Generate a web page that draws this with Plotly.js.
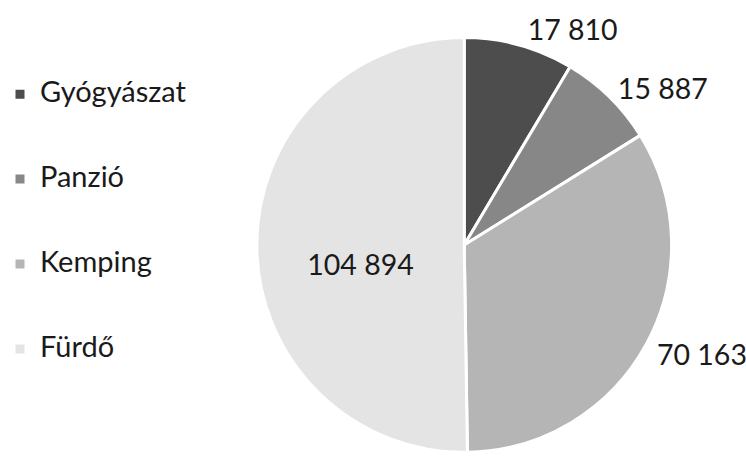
<!DOCTYPE html>
<html><head><meta charset="utf-8">
<script src="https://cdn.plot.ly/plotly-3.0.1.min.js"></script>
<style>html,body{margin:0;padding:0;background:#fff}</style>
</head><body>
<div id="chart" style="width:746px;height:457px"></div>
<script>
const categories = ["Gyógyászat", "Panzió", "Kemping", "Fürdő"];
const values = [17810, 15887, 70163, 104894];
const colors = ["#4d4d4d", "#878787", "#b5b5b5", "#e4e4e4"];
const textPositions = ["outside", "outside", "outside", "inside"];
const labelSizes = [28.5, 28.5, 16, 28.5];
// blank-line prefixes nudge two labels down, as in the reference
const textPrefix = ["", "", "\u00a0<br>", "\u00a0<br>"];

const legendLabels = categories.map(c => '<span style="font-size:29px">' + c + '</span><br> <br> ');

const FONT = "Lato, 'Open Sans', sans-serif";

const trace = {
  type: "pie",
  labels: legendLabels,
  values: values,
  customdata: textPrefix,
  sort: false,
  direction: "clockwise",
  rotation: 0,
  marker: {colors: colors, line: {color: "#ffffff", width: 3}},
  texttemplate: "%{customdata}<span style=\"font-size:28.5px\">%{value:,}</span>",
  textposition: textPositions,
  insidetextorientation: "horizontal",
  textfont: {family: FONT, size: labelSizes, color: "#1a1a1a"},
  outsidetextfont: {family: FONT, size: labelSizes, color: "#1a1a1a"},
  insidetextfont: {family: FONT, size: labelSizes, color: "#1a1a1a"},
  domain: {x: [0.3425, 0.9], y: [0.009, 0.919]},
  hoverinfo: "value"
};

const layout = {
  width: 746, height: 457,
  margin: {l: 0, r: 0, t: 0, b: 0},
  paper_bgcolor: "#ffffff",
  separators: ", ",
  showlegend: true,
  legend: {
    x: -0.003, y: 0.838, xanchor: "left", yanchor: "top",
    valign: "top",
    font: {family: FONT, size: 21, color: "#1a1a1a"},
    itemwidth: 30
  }
};

Plotly.newPlot("chart", [trace], layout, {displayModeBar: false, staticPlot: true});
</script>
</body></html>
